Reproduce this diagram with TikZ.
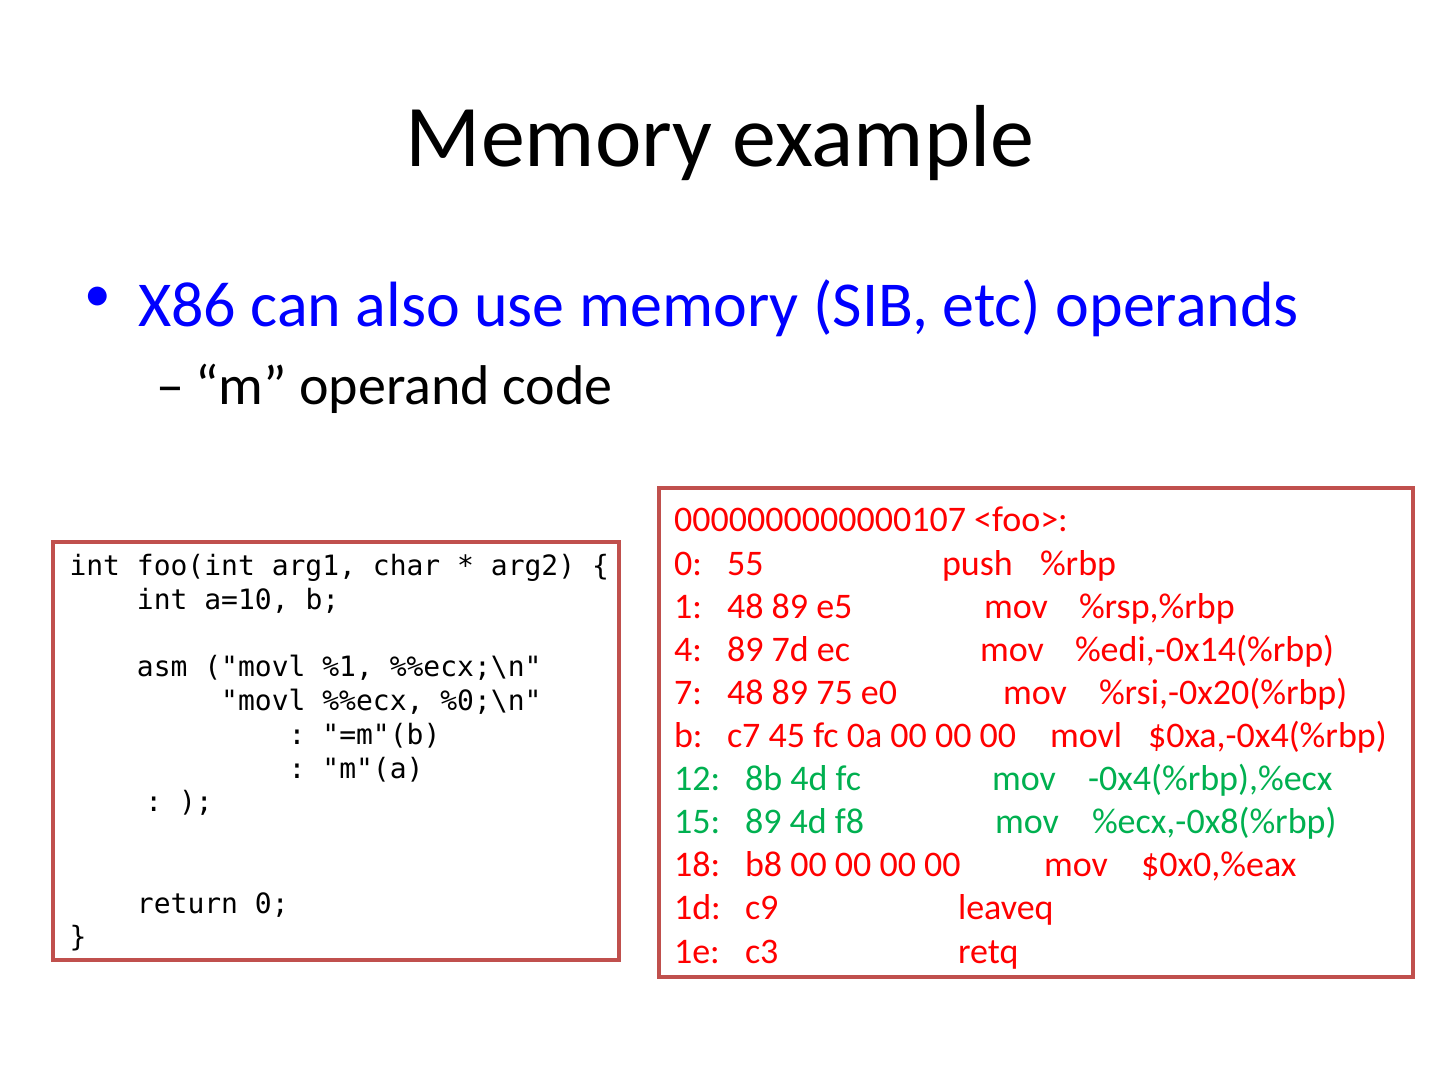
\documentclass[tikz,border=0pt]{standalone}
\usepackage{fontspec}
\setmainfont{Carlito}
\setmonofont{DejaVu Sans Mono}
\definecolor{boxred}{HTML}{C0504D}
\definecolor{asmgreen}{HTML}{00B050}
\definecolor{bulblue}{HTML}{0000FF}
\newcommand{\bs}{\textbackslash}

\begin{document}
\begin{tikzpicture}[x=0.75pt,y=-0.75pt,
    every node/.style={inner sep=0pt,outer sep=0pt},
    codebox/.style={draw=boxred,line width=3pt,fill=white},
    srcline/.style={anchor=base west,font=\fontsize{21}{25}\ttfamily},
    asmline/.style={anchor=base west,font=\fontsize{27}{32}\selectfont}]
        \def\pw{1440} \def\ph{1080}
        \fill[white] (0,0) rectangle (\pw,\ph);
        \useasboundingbox (0,0) rectangle (\pw,\ph);

        \node[anchor=base,font=\fontsize{66}{79}\selectfont] (title) at (720,167) {Memory example};

        \node[anchor=base west,text=bulblue,font=\fontsize{40}{48}\selectfont] (bul) at (84.5,312) {•};
        \node[anchor=base west,text=bulblue,font=\fontsize{48}{58}\selectfont] (point) at (138,327) {X86 can also use memory (SIB, etc) operands};
        \node[anchor=base west,font=\fontsize{42}{50}\selectfont] (dash) at (156,405) {–};
        \node[anchor=base west,font=\fontsize{42}{50}\selectfont] (subpoint) at (195,405) {“m” operand code};

        % C source
        \draw[codebox] (53,542) rectangle (619,960);
        \def\cw{16.86}
        \foreach \i/\col/\txt in {0/0/{int foo(int arg1, char * arg2) \{},
                                  1/4/{int a=10, b;},
                                  3/4/{asm ("movl \%1, \%\%ecx;\bs n"},
                                  4/9/{"movl \%\%ecx, \%0;\bs n"},
                                  5/13/{: "=m"(b)},
                                  6/13/{: "m"(a)},
                                  7/4.5/{: );},
                                  10/4/{return 0;},
                                  11/0/{\}}}
          \node[srcline] (src\i) at ({69.5+\col*\cw},{575.5+\i*33.75}) {\txt};

        % objdump output
        \draw[codebox] (659,488) rectangle (1413,977);
        \node[asmline,text=red] (head) at (674,532) {0000000000000107 <foo>:};
        \foreach \i/\c/\adr/\xb/\byt/\xm/\mn/\xo/\op in {
            1/red/0:/727/55/942/push/1040/{\%rbp},
            2/red/1:/727/48 89 e5/984/mov/1079/{\%rsp,\%rbp},
            3/red/4:/727/89 7d ec/980/mov/1075/{\%edi,-0x14(\%rbp)},
            4/red/7:/727/48 89 75 e0/1003/mov/1099/{\%rsi,-0x20(\%rbp)},
            5/red/b:/727/c7 45 fc 0a 00 00 00/1050/movl/1148/{\$0xa,-0x4(\%rbp)},
            6/asmgreen/12:/745/8b 4d fc/992/mov/1088/{-0x4(\%rbp),\%ecx},
            7/asmgreen/15:/745/89 4d f8/995/mov/1092/{\%ecx,-0x8(\%rbp)},
            8/red/18:/745/b8 00 00 00 00/1044/mov/1141/{\$0x0,\%eax},
            9/red/1d:/745/c9/958/leaveq/1100/{},
            10/red/1e:/745/c3/958/retq/1100/{}} {
          \node[asmline,text=\c] (adr\i) at (674,{532+\i*43.1}) {\adr};
          \node[asmline,text=\c] (byt\i) at (\xb,{532+\i*43.1}) {\byt};
          \node[asmline,text=\c] (mn\i) at (\xm,{532+\i*43.1}) {\mn};
          \node[asmline,text=\c] (op\i) at (\xo,{532+\i*43.1}) {\op};
        }
\end{tikzpicture}
\end{document}
